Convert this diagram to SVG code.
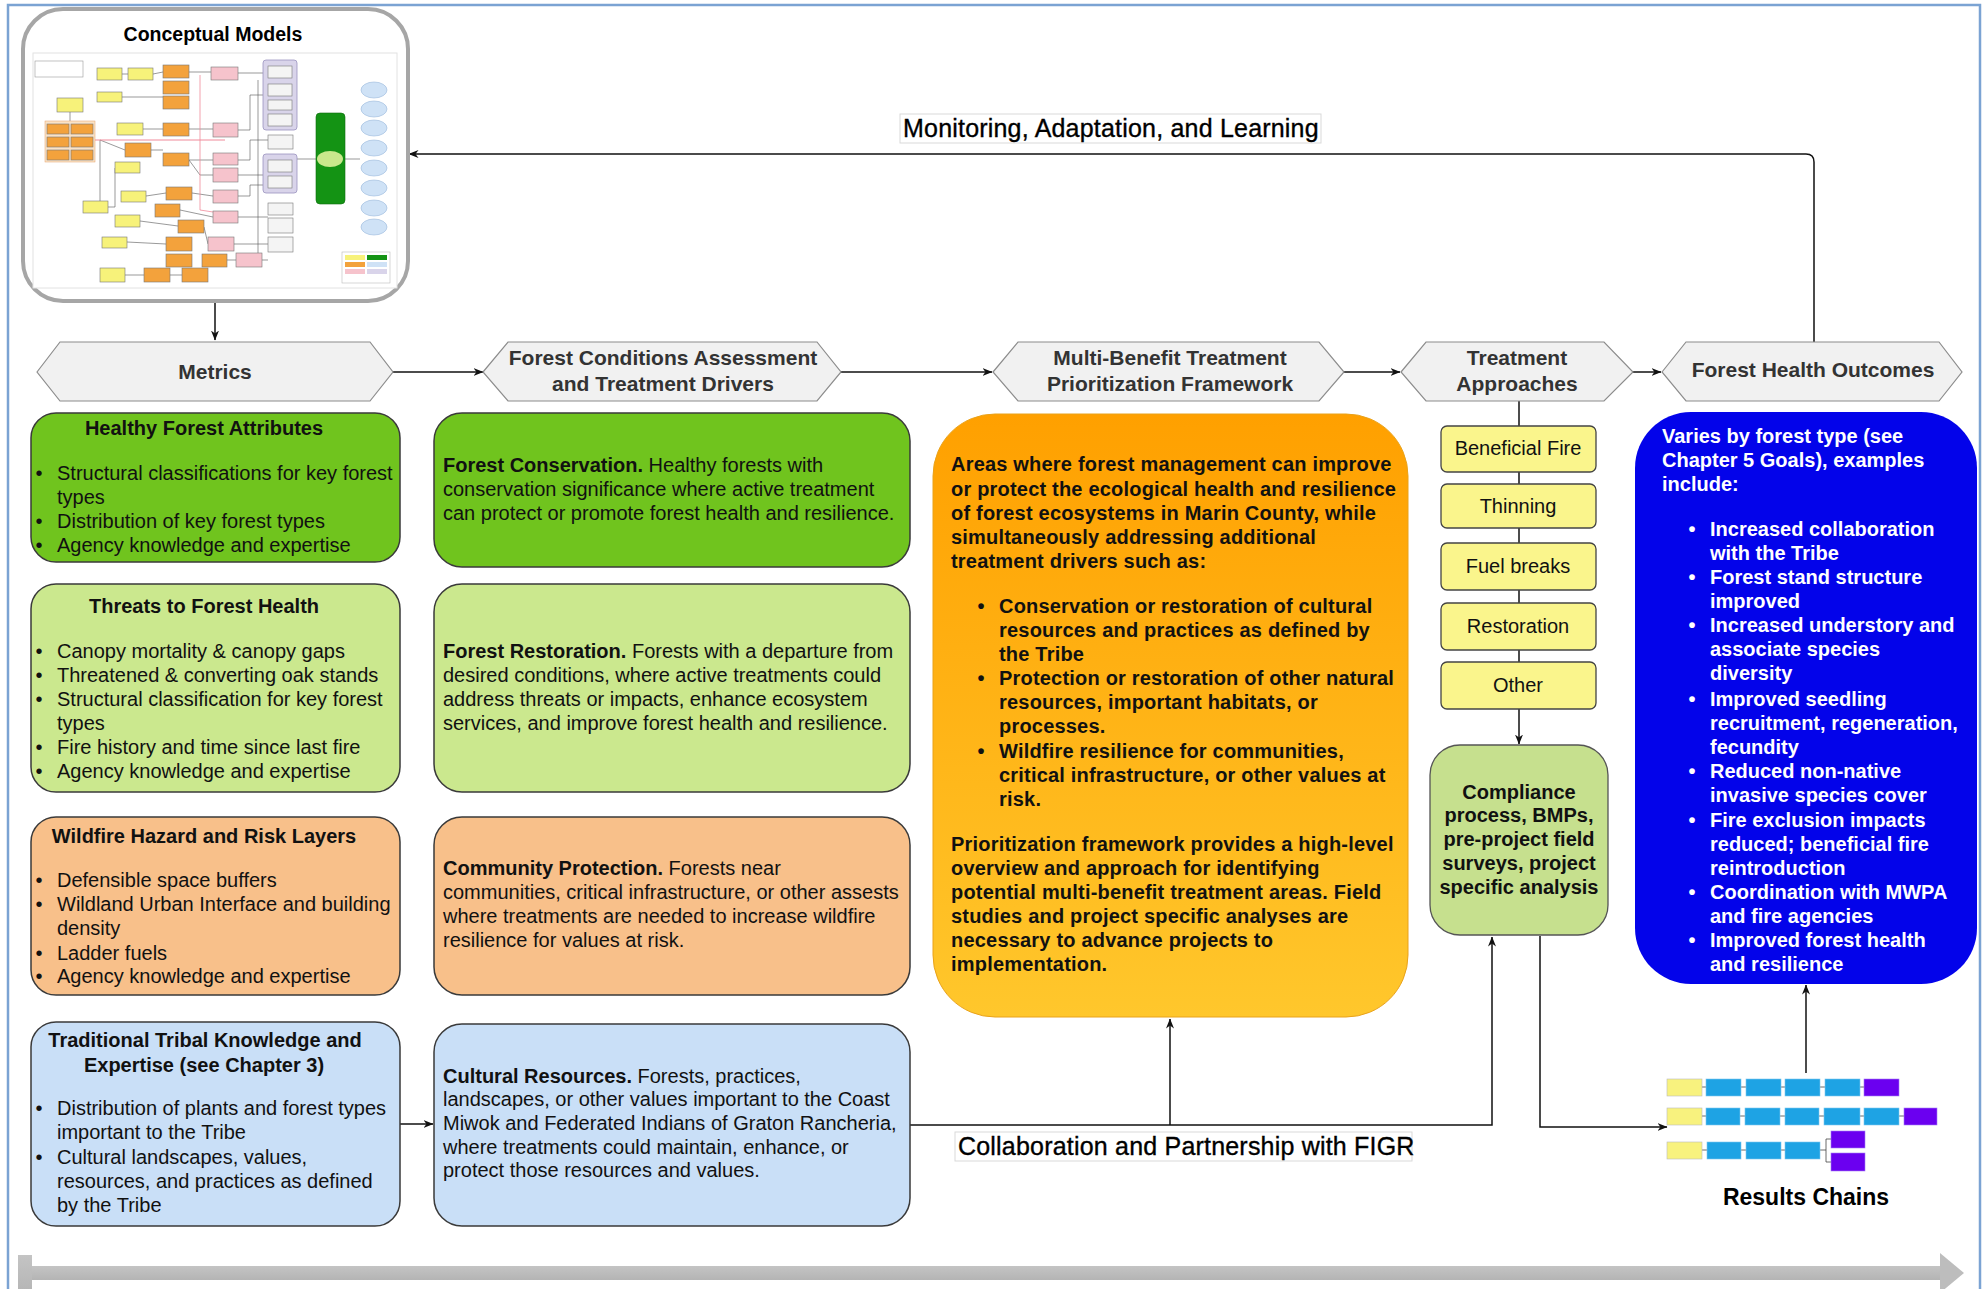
<svg xmlns="http://www.w3.org/2000/svg" width="1986" height="1289" viewBox="0 0 1986 1289">
  <defs>
    <style>
      text { font-family: "Liberation Sans", Arial, sans-serif; }
      .hex { fill: #f1f1f1; stroke: #8c8c8c; stroke-width: 1.2; }
      .hexlbl { font-size: 21px; font-weight: bold; fill: #333; text-anchor: middle; }
      .box { stroke: #3a3a3a; stroke-width: 1.5; }
      .title { font-size: 20px; font-weight: bold; fill: #111; text-anchor: middle; }
      .body { font-size: 20px; fill: #111; }
      .b { font-weight: bold; }
      .bul { font-size: 20px; fill: #111; text-anchor: middle; }
      .obody { font-size: 20px; font-weight: bold; fill: #111; letter-spacing: 0.2px; }
      .wbody { font-size: 20px; font-weight: bold; fill: #fff; }
      .tap { fill: #faf58c; stroke: #444; stroke-width: 1.3; }
      .taplbl { font-size: 20px; fill: #111; text-anchor: middle; }
      .conn { fill: none; stroke: #111; stroke-width: 1.5; }
      .lbl { font-size: 25px; fill: #000; stroke: #000; stroke-width: 0.35; letter-spacing: 0.2px; }
      .lblbg { fill: #fff; stroke: #d9d9d9; stroke-width: 1; }
      .tb { stroke: #777; stroke-width: 0.6; }
      .ty { fill: #f7f27a; }
      .to { fill: #f3a23c; }
      .tp { fill: #f6c3cc; }
      .tg { fill: #f4f4f4; }
      .tl { fill: #d9d4ea; stroke: #9a93bf; stroke-width: 0.8; }
      .tline { fill: none; stroke: #555; stroke-width: 0.6; }
      .rc-y { fill: #f8f27e; stroke: #bbb; stroke-width: 0.6; }
      .rc-b { fill: #1ea3e4; stroke: #7cc6ef; stroke-width: 0.6; }
      .rc-p { fill: #6b00f0; stroke: #a37cf5; stroke-width: 0.6; }
      .rc-l { fill: none; stroke: #444; stroke-width: 0.8; }
    </style>
    <marker id="arrow" viewBox="0 0 10 8" refX="9.5" refY="4" markerWidth="10" markerHeight="8" markerUnits="userSpaceOnUse" orient="auto">
      <path d="M0,0 L10,4 L0,8 L3,4 z" fill="#111"/>
    </marker>
    <linearGradient id="orangeGrad" x1="0" y1="0" x2="0" y2="1">
      <stop offset="0" stop-color="#ffa000"/>
      <stop offset="1" stop-color="#ffc72c"/>
    </linearGradient>
    <linearGradient id="barGrad" x1="0" y1="0" x2="0" y2="1">
      <stop offset="0" stop-color="#c4c4c4"/>
      <stop offset="1" stop-color="#b4b4b4"/>
    </linearGradient>
  </defs>

  <!-- page frame -->
  <rect x="0" y="0" width="1986" height="1289" fill="#fff"/>
  <path d="M8,1295 L8,5 L1980,5 L1980,1295" fill="none" stroke="#7ba3d3" stroke-width="2.5"/>

  <!-- timeline bar along the bottom -->
  <g id="timeline">
    <rect x="18" y="1255" width="14" height="40" fill="url(#barGrad)"/>
    <rect x="32" y="1266" width="1910" height="14" fill="url(#barGrad)"/>
    <path d="M1940,1253 L1964,1273 L1940,1293 z" fill="#bdbdbd"/>
  </g>

  <!-- connectors -->
  <g id="connectors">
    <path class="conn" d="M215,301 L215,340" marker-end="url(#arrow)"/>
    <path class="conn" d="M393,372 L483,372" marker-end="url(#arrow)"/>
    <path class="conn" d="M841,372 L992,372" marker-end="url(#arrow)"/>
    <path class="conn" d="M1344,372 L1400,372" marker-end="url(#arrow)"/>
    <path class="conn" d="M1633,372 L1661,372" marker-end="url(#arrow)"/>
    <path class="conn" d="M1814,342 L1814,162 Q1814,154 1806,154 L409,154" marker-end="url(#arrow)"/>
    <path class="conn" d="M1519,401 L1519,744" marker-end="url(#arrow)"/>
    <path class="conn" d="M400,1124 L433,1124" marker-end="url(#arrow)"/>
    <path class="conn" d="M910,1125 L1492,1125 L1492,937" marker-end="url(#arrow)"/>
    <path class="conn" d="M1170,1125 L1170,1019" marker-end="url(#arrow)"/>
    <path class="conn" d="M1540,936 L1540,1127 L1667,1127" marker-end="url(#arrow)"/>
    <path class="conn" d="M1806,1073 L1806,985" marker-end="url(#arrow)"/>
  </g>

  <!-- connector labels -->
  <g id="label-monitoring">
    <rect class="lblbg" x="900" y="114" width="421" height="29"/>
    <text class="lbl" x="903" y="137">Monitoring, Adaptation, and Learning</text>
  </g>
  <g id="label-collaboration">
    <rect class="lblbg" x="955" y="1132" width="457" height="29"/>
    <text class="lbl" x="958" y="1155">Collaboration and Partnership with FIGR</text>
  </g>

  <!-- Conceptual Models -->
  <g id="conceptual-models">
    <rect x="23" y="9" width="385" height="292" rx="40" fill="#fff" stroke="#a6a6a6" stroke-width="4"/>
    <text x="213" y="41" font-size="19.5" font-weight="bold" text-anchor="middle" fill="#000">Conceptual Models</text>
    <g id="conceptual-models-thumbnail">
      <rect x="33" y="53" width="364" height="235" fill="#fff" stroke="#e2e2e2" stroke-width="1"/>
      <!-- wiring -->
      <path class="tline" d="M122,74 L128,74 M153,74 L163,72 M122,97 L163,97 M70,112 L70,123 M143,129 L163,129 M151,150 L163,150 M189,72 L211,72 M189,129 L213,129 M189,160 L213,160 M189,160 L200,175 L213,175 M238,73 L263,73 M238,130 L250,130 L250,95 L263,95 M238,160 L250,160 L250,140 L268,140 M238,175 L263,175 M238,196 L250,196 L250,185 L263,185 M238,217 L268,217 M234,244 L268,244 M262,260 L268,260 M192,193 L213,196 M180,210 L213,217 M204,227 L208,244 M146,196 L166,193 M140,221 L178,226 M127,242 L166,244 M125,275 L144,275 M170,275 L182,275 M227,260 L236,260 M297,159 L316,159 M345,159 L360,159 M108,207 L115,207 L115,168 M100,207 L100,140 L125,150 M258,80 L258,260"/>
      <path d="M95,140 L225,140" stroke="#f08a9a" stroke-width="1" fill="none"/>
      <path d="M200,75 L200,210 L213,212" stroke="#f08a9a" stroke-width="0.8" fill="none"/>
      <rect x="35" y="61" width="48" height="16" fill="#fff" stroke="#999" stroke-width="0.6"/>
      <!-- yellow factors -->
      <g class="tb">
        <rect class="ty" x="97" y="68" width="25" height="12"/>
        <rect class="ty" x="128" y="68" width="25" height="12"/>
        <rect class="ty" x="97" y="92" width="25" height="10"/>
        <rect class="ty" x="57" y="98" width="26" height="14"/>
        <rect class="ty" x="117" y="123" width="26" height="12"/>
        <rect class="ty" x="115" y="162" width="25" height="11"/>
        <rect class="ty" x="83" y="201" width="25" height="12"/>
        <rect class="ty" x="121" y="191" width="25" height="11"/>
        <rect class="ty" x="115" y="215" width="25" height="12"/>
        <rect class="ty" x="102" y="237" width="25" height="11"/>
        <rect class="ty" x="100" y="268" width="25" height="14"/>
      </g>
      <!-- orange factors -->
      <rect x="45" y="121" width="50" height="41" fill="#fbe3c6" stroke="#e3a06a" stroke-width="0.5"/>
      <g class="tb">
        <rect class="to" x="47" y="124" width="22" height="10"/>
        <rect class="to" x="71" y="124" width="22" height="10"/>
        <rect class="to" x="47" y="137" width="22" height="10"/>
        <rect class="to" x="71" y="137" width="22" height="10"/>
        <rect class="to" x="47" y="150" width="22" height="10"/>
        <rect class="to" x="71" y="150" width="22" height="10"/>
        <rect class="to" x="163" y="65" width="26" height="13"/>
        <rect class="to" x="163" y="81" width="26" height="13"/>
        <rect class="to" x="163" y="96" width="26" height="13"/>
        <rect class="to" x="163" y="123" width="26" height="13"/>
        <rect class="to" x="125" y="143" width="26" height="14"/>
        <rect class="to" x="163" y="153" width="26" height="13"/>
        <rect class="to" x="166" y="187" width="26" height="13"/>
        <rect class="to" x="155" y="204" width="25" height="13"/>
        <rect class="to" x="178" y="220" width="26" height="13"/>
        <rect class="to" x="166" y="237" width="26" height="14"/>
        <rect class="to" x="166" y="254" width="26" height="13"/>
        <rect class="to" x="202" y="254" width="25" height="13"/>
        <rect class="to" x="144" y="268" width="26" height="14"/>
        <rect class="to" x="182" y="268" width="26" height="14"/>
      </g>
      <!-- pink strategies -->
      <g class="tb">
        <rect class="tp" x="211" y="67" width="27" height="13"/>
        <rect class="tp" x="213" y="123" width="25" height="14"/>
        <rect class="tp" x="213" y="153" width="25" height="12"/>
        <rect class="tp" x="213" y="168" width="25" height="14"/>
        <rect class="tp" x="213" y="190" width="25" height="13"/>
        <rect class="tp" x="213" y="211" width="25" height="12"/>
        <rect class="tp" x="208" y="237" width="26" height="14"/>
        <rect class="tp" x="236" y="253" width="26" height="14"/>
      </g>
      <!-- grouped results -->
      <rect class="tl" x="263" y="60" width="34" height="70" rx="3"/>
      <rect class="tl" x="263" y="154" width="34" height="39" rx="3"/>
      <g class="tb">
        <rect class="tg" x="268" y="66" width="24" height="12"/>
        <rect class="tg" x="268" y="84" width="24" height="12"/>
        <rect class="tg" x="268" y="100" width="24" height="10"/>
        <rect class="tg" x="268" y="114" width="24" height="12"/>
        <rect class="tg" x="268" y="160" width="24" height="12"/>
        <rect class="tg" x="268" y="176" width="24" height="12"/>
        <rect class="tg" x="268" y="135" width="25" height="14"/>
        <rect class="tg" x="268" y="203" width="25" height="12"/>
        <rect class="tg" x="268" y="218" width="25" height="15"/>
        <rect class="tg" x="268" y="237" width="25" height="15"/>
      </g>
      <!-- target -->
      <rect x="316" y="113" width="29" height="91" rx="4" fill="#149314" stroke="#0d6b0d" stroke-width="0.6"/>
      <ellipse cx="330" cy="159" rx="13" ry="8" fill="#c9e88c"/>
      <!-- ecosystem services -->
      <g fill="#cfe2f6" stroke="#9ab9dc" stroke-width="0.6">
        <ellipse cx="374" cy="90" rx="13" ry="8"/>
        <ellipse cx="374" cy="109" rx="13" ry="8"/>
        <ellipse cx="374" cy="128" rx="13" ry="8"/>
        <ellipse cx="374" cy="148" rx="13" ry="8"/>
        <ellipse cx="374" cy="168" rx="13" ry="8"/>
        <ellipse cx="374" cy="188" rx="13" ry="8"/>
        <ellipse cx="374" cy="208" rx="13" ry="8"/>
        <ellipse cx="374" cy="227" rx="13" ry="8"/>
      </g>
      <!-- key -->
      <rect x="342" y="252" width="48" height="31" fill="#fff" stroke="#bbb" stroke-width="0.6"/>
      <rect x="345" y="255" width="20" height="5" fill="#f7f27a"/>
      <rect x="367" y="255" width="20" height="5" fill="#149314"/>
      <rect x="345" y="262" width="20" height="5" fill="#f3a23c"/>
      <rect x="367" y="262" width="20" height="5" fill="#cfe2f6"/>
      <rect x="345" y="269" width="20" height="5" fill="#f6c3cc"/>
      <rect x="367" y="269" width="20" height="5" fill="#d9d4ea"/>
    </g>
  </g>

  <!-- stage headers -->
  <g id="metrics">
    <polygon class="hex" points="37,372 60,342 370,342 393,372 370,401 60,401"/>
    <text class="hexlbl" x="215" y="379">Metrics</text>
  </g>
  <g id="forest-conditions">
    <polygon class="hex" points="483,372 508,342 817,342 841,372 817,401 508,401"/>
    <text class="hexlbl" x="663" y="365">Forest Conditions Assessment</text>
    <text class="hexlbl" x="663" y="391">and Treatment Drivers</text>
  </g>
  <g id="multi-benefit">
    <polygon class="hex" points="993,372 1018,342 1319,342 1344,372 1319,401 1018,401"/>
    <text class="hexlbl" x="1170" y="365">Multi-Benefit Treatment</text>
    <text class="hexlbl" x="1170" y="391">Prioritization Framework</text>
  </g>
  <g id="treatment-approaches">
    <polygon class="hex" points="1401,372 1426,342 1604,342 1633,372 1604,401 1426,401"/>
    <text class="hexlbl" x="1517" y="365">Treatment</text>
    <text class="hexlbl" x="1517" y="391">Approaches</text>
  </g>
  <g id="forest-health-outcomes">
    <polygon class="hex" points="1662,372 1686,342 1939,342 1962,372 1939,401 1686,401"/>
    <text class="hexlbl" x="1813" y="377">Forest Health Outcomes</text>
  </g>

  <!-- metric boxes -->
  <g id="healthy-forest-attributes">
    <rect class="box" x="31" y="413" width="369" height="149" rx="25" fill="#70c41e"/>
    <text class="title" x="204" y="435">Healthy Forest Attributes</text>
    <text class="bul" x="39" y="480">•</text>
    <text class="body" x="57" y="480">Structural classifications for key forest</text>
    <text class="body" x="57" y="504">types</text>
    <text class="bul" x="39" y="528">•</text>
    <text class="body" x="57" y="528">Distribution of key forest types</text>
    <text class="bul" x="39" y="552">•</text>
    <text class="body" x="57" y="552">Agency knowledge and expertise</text>
  </g>
  <g id="threats-to-forest-health">
    <rect class="box" x="31" y="584" width="369" height="208" rx="25" fill="#cbe88e"/>
    <text class="title" x="204" y="613">Threats to Forest Health</text>
    <text class="bul" x="39" y="658">•</text>
    <text class="body" x="57" y="658">Canopy mortality &amp; canopy gaps</text>
    <text class="bul" x="39" y="682">•</text>
    <text class="body" x="57" y="682">Threatened &amp; converting oak stands</text>
    <text class="bul" x="39" y="706">•</text>
    <text class="body" x="57" y="706">Structural classification for key forest</text>
    <text class="body" x="57" y="730">types</text>
    <text class="bul" x="39" y="754">•</text>
    <text class="body" x="57" y="754">Fire history and time since last fire</text>
    <text class="bul" x="39" y="778">•</text>
    <text class="body" x="57" y="778">Agency knowledge and expertise</text>
  </g>
  <g id="wildfire-hazard">
    <rect class="box" x="31" y="817" width="369" height="178" rx="25" fill="#f8c08a"/>
    <text class="title" x="204" y="843">Wildfire Hazard and Risk Layers</text>
    <text class="bul" x="39" y="887">•</text>
    <text class="body" x="57" y="887">Defensible space buffers</text>
    <text class="bul" x="39" y="911">•</text>
    <text class="body" x="57" y="911">Wildland Urban Interface and building</text>
    <text class="body" x="57" y="935">density</text>
    <text class="bul" x="39" y="960">•</text>
    <text class="body" x="57" y="960">Ladder fuels</text>
    <text class="bul" x="39" y="983">•</text>
    <text class="body" x="57" y="983">Agency knowledge and expertise</text>
  </g>
  <g id="traditional-tribal-knowledge">
    <rect class="box" x="31" y="1022" width="369" height="204" rx="25" fill="#c9dff7"/>
    <text class="title" x="205" y="1047">Traditional Tribal Knowledge and</text>
    <text class="title" x="204" y="1072">Expertise (see Chapter 3)</text>
    <text class="bul" x="39" y="1115">•</text>
    <text class="body" x="57" y="1115">Distribution of plants and forest types</text>
    <text class="body" x="57" y="1139">important to the Tribe</text>
    <text class="bul" x="39" y="1164">•</text>
    <text class="body" x="57" y="1164">Cultural landscapes, values,</text>
    <text class="body" x="57" y="1188">resources, and practices as defined</text>
    <text class="body" x="57" y="1212">by the Tribe</text>
  </g>

  <!-- treatment driver boxes -->
  <g id="forest-conservation">
    <rect class="box" x="434" y="413" width="476" height="154" rx="28" fill="#70c41e"/>
    <text class="body" x="443" y="472"><tspan class="b">Forest Conservation.</tspan> Healthy forests with</text>
    <text class="body" x="443" y="496">conservation significance where active treatment</text>
    <text class="body" x="443" y="520">can protect or promote forest health and resilience.</text>
  </g>
  <g id="forest-restoration">
    <rect class="box" x="434" y="584" width="476" height="208" rx="28" fill="#cbe88e"/>
    <text class="body" x="443" y="658"><tspan class="b">Forest Restoration.</tspan> Forests with a departure from</text>
    <text class="body" x="443" y="682">desired conditions, where active treatments could</text>
    <text class="body" x="443" y="706">address threats or impacts, enhance ecosystem</text>
    <text class="body" x="443" y="730">services, and improve forest health and resilience.</text>
  </g>
  <g id="community-protection">
    <rect class="box" x="434" y="817" width="476" height="178" rx="28" fill="#f8c08a"/>
    <text class="body" x="443" y="875"><tspan class="b">Community Protection.</tspan> Forests near</text>
    <text class="body" x="443" y="899">communities, critical infrastructure, or other assests</text>
    <text class="body" x="443" y="923">where treatments are needed to increase wildfire</text>
    <text class="body" x="443" y="947">resilience for values at risk.</text>
  </g>
  <g id="cultural-resources">
    <rect class="box" x="434" y="1024" width="476" height="202" rx="28" fill="#c9dff7"/>
    <text class="body" x="443" y="1083"><tspan class="b">Cultural Resources.</tspan> Forests, practices,</text>
    <text class="body" x="443" y="1106">landscapes, or other values important to the Coast</text>
    <text class="body" x="443" y="1130">Miwok and Federated Indians of Graton Rancheria,</text>
    <text class="body" x="443" y="1154">where treatments could maintain, enhance, or</text>
    <text class="body" x="443" y="1177">protect those resources and values.</text>
  </g>

  <!-- prioritization framework -->
  <g id="prioritization-areas">
    <rect x="933" y="414" width="475" height="603" rx="62" fill="url(#orangeGrad)" stroke="#e9a21a" stroke-width="1"/>
    <text class="obody" x="951" y="471">Areas where forest management can improve</text>
    <text class="obody" x="951" y="496">or protect the ecological health and resilience</text>
    <text class="obody" x="951" y="520">of forest ecosystems in Marin County, while</text>
    <text class="obody" x="951" y="544">simultaneously addressing additional</text>
    <text class="obody" x="951" y="568">treatment drivers such as:</text>
    <text class="obody" x="981" y="613" text-anchor="middle">•</text>
    <text class="obody" x="999" y="613">Conservation or restoration of cultural</text>
    <text class="obody" x="999" y="637">resources and practices as defined by</text>
    <text class="obody" x="999" y="661">the Tribe</text>
    <text class="obody" x="981" y="685" text-anchor="middle">•</text>
    <text class="obody" x="999" y="685">Protection or restoration of other natural</text>
    <text class="obody" x="999" y="709">resources, important habitats, or</text>
    <text class="obody" x="999" y="733">processes.</text>
    <text class="obody" x="981" y="758" text-anchor="middle">•</text>
    <text class="obody" x="999" y="758">Wildfire resilience for communities,</text>
    <text class="obody" x="999" y="782">critical infrastructure, or other values at</text>
    <text class="obody" x="999" y="806">risk.</text>
    <text class="obody" x="951" y="851">Prioritization framework provides a high-level</text>
    <text class="obody" x="951" y="875">overview and approach for identifying</text>
    <text class="obody" x="951" y="899">potential multi-benefit treatment areas. Field</text>
    <text class="obody" x="951" y="923">studies and project specific analyses are</text>
    <text class="obody" x="951" y="947">necessary to advance projects to</text>
    <text class="obody" x="951" y="971">implementation.</text>
  </g>

  <!-- treatment approaches -->
  <g id="beneficial-fire">
    <rect class="tap" x="1441" y="426" width="155" height="46" rx="6"/>
    <text class="taplbl" x="1518" y="455">Beneficial Fire</text>
  </g>
  <g id="thinning">
    <rect class="tap" x="1441" y="484" width="155" height="44" rx="6"/>
    <text class="taplbl" x="1518" y="513">Thinning</text>
  </g>
  <g id="fuel-breaks">
    <rect class="tap" x="1441" y="543" width="155" height="47" rx="6"/>
    <text class="taplbl" x="1518" y="573">Fuel breaks</text>
  </g>
  <g id="restoration">
    <rect class="tap" x="1441" y="603" width="155" height="47" rx="6"/>
    <text class="taplbl" x="1518" y="633">Restoration</text>
  </g>
  <g id="other">
    <rect class="tap" x="1441" y="662" width="155" height="47" rx="6"/>
    <text class="taplbl" x="1518" y="692">Other</text>
  </g>
  <g id="compliance">
    <rect x="1430" y="745" width="178" height="190" rx="30" fill="#c6e08e" stroke="#555" stroke-width="1.3"/>
    <text class="title" x="1519" y="799">Compliance</text>
    <text class="title" x="1519" y="822">process, BMPs,</text>
    <text class="title" x="1519" y="846">pre-project field</text>
    <text class="title" x="1519" y="870">surveys, project</text>
    <text class="title" x="1519" y="894">specific analysis</text>
  </g>

  <!-- outcomes -->
  <g id="outcomes-list">
    <rect x="1635" y="412" width="342" height="572" rx="56" fill="#0303ea"/>
    <text class="wbody" x="1662" y="443">Varies by forest type (see</text>
    <text class="wbody" x="1662" y="467">Chapter 5 Goals), examples</text>
    <text class="wbody" x="1662" y="491">include:</text>
    <text class="wbody" x="1692" y="536" text-anchor="middle">•</text>
    <text class="wbody" x="1710" y="536">Increased collaboration</text>
    <text class="wbody" x="1710" y="560">with the Tribe</text>
    <text class="wbody" x="1692" y="584" text-anchor="middle">•</text>
    <text class="wbody" x="1710" y="584">Forest stand structure</text>
    <text class="wbody" x="1710" y="608">improved</text>
    <text class="wbody" x="1692" y="632" text-anchor="middle">•</text>
    <text class="wbody" x="1710" y="632">Increased understory and</text>
    <text class="wbody" x="1710" y="656">associate species</text>
    <text class="wbody" x="1710" y="680">diversity</text>
    <text class="wbody" x="1692" y="706" text-anchor="middle">•</text>
    <text class="wbody" x="1710" y="706">Improved seedling</text>
    <text class="wbody" x="1710" y="730">recruitment, regeneration,</text>
    <text class="wbody" x="1710" y="754">fecundity</text>
    <text class="wbody" x="1692" y="778" text-anchor="middle">•</text>
    <text class="wbody" x="1710" y="778">Reduced non-native</text>
    <text class="wbody" x="1710" y="802">invasive species cover</text>
    <text class="wbody" x="1692" y="827" text-anchor="middle">•</text>
    <text class="wbody" x="1710" y="827">Fire exclusion impacts</text>
    <text class="wbody" x="1710" y="851">reduced; beneficial fire</text>
    <text class="wbody" x="1710" y="875">reintroduction</text>
    <text class="wbody" x="1692" y="899" text-anchor="middle">•</text>
    <text class="wbody" x="1710" y="899">Coordination with MWPA</text>
    <text class="wbody" x="1710" y="923">and fire agencies</text>
    <text class="wbody" x="1692" y="947" text-anchor="middle">•</text>
    <text class="wbody" x="1710" y="947">Improved forest health</text>
    <text class="wbody" x="1710" y="971">and resilience</text>
  </g>

  <!-- results chains -->
  <g id="results-chains">
    <path class="rc-l" d="M1702,1087 L1706,1087 M1741,1087 L1746,1087 M1781,1087 L1785,1087 M1820,1087 L1825,1087 M1860,1087 L1864,1087 M1702,1116 L1706,1116 M1740,1116 L1745,1116 M1780,1116 L1785,1116 M1819,1116 L1824,1116 M1860,1116 L1864,1116 M1899,1116 L1904,1116 M1702,1150 L1707,1150 M1741,1150 L1746,1150 M1781,1150 L1785,1150 M1820,1150 L1826,1150 M1826,1139 L1826,1162 M1826,1139 L1831,1139 M1826,1162 L1831,1162"/>
    <rect class="rc-y" x="1667" y="1079" width="35" height="17"/>
    <rect class="rc-b" x="1706" y="1079" width="35" height="17"/>
    <rect class="rc-b" x="1746" y="1079" width="35" height="17"/>
    <rect class="rc-b" x="1785" y="1079" width="35" height="17"/>
    <rect class="rc-b" x="1825" y="1079" width="35" height="17"/>
    <rect class="rc-p" x="1864" y="1079" width="35" height="17"/>
    <rect class="rc-y" x="1667" y="1108" width="35" height="17"/>
    <rect class="rc-b" x="1706" y="1108" width="34" height="17"/>
    <rect class="rc-b" x="1745" y="1108" width="35" height="17"/>
    <rect class="rc-b" x="1785" y="1108" width="34" height="17"/>
    <rect class="rc-b" x="1824" y="1108" width="36" height="17"/>
    <rect class="rc-b" x="1864" y="1108" width="35" height="17"/>
    <rect class="rc-p" x="1904" y="1108" width="33" height="17"/>
    <rect class="rc-y" x="1667" y="1142" width="35" height="17"/>
    <rect class="rc-b" x="1707" y="1142" width="34" height="17"/>
    <rect class="rc-b" x="1746" y="1142" width="35" height="17"/>
    <rect class="rc-b" x="1785" y="1142" width="35" height="17"/>
    <rect class="rc-p" x="1831" y="1131" width="34" height="17"/>
    <rect class="rc-p" x="1831" y="1153" width="34" height="18"/>
    <text x="1806" y="1205" font-size="23" font-weight="bold" text-anchor="middle" fill="#000">Results Chains</text>
  </g>
</svg>
